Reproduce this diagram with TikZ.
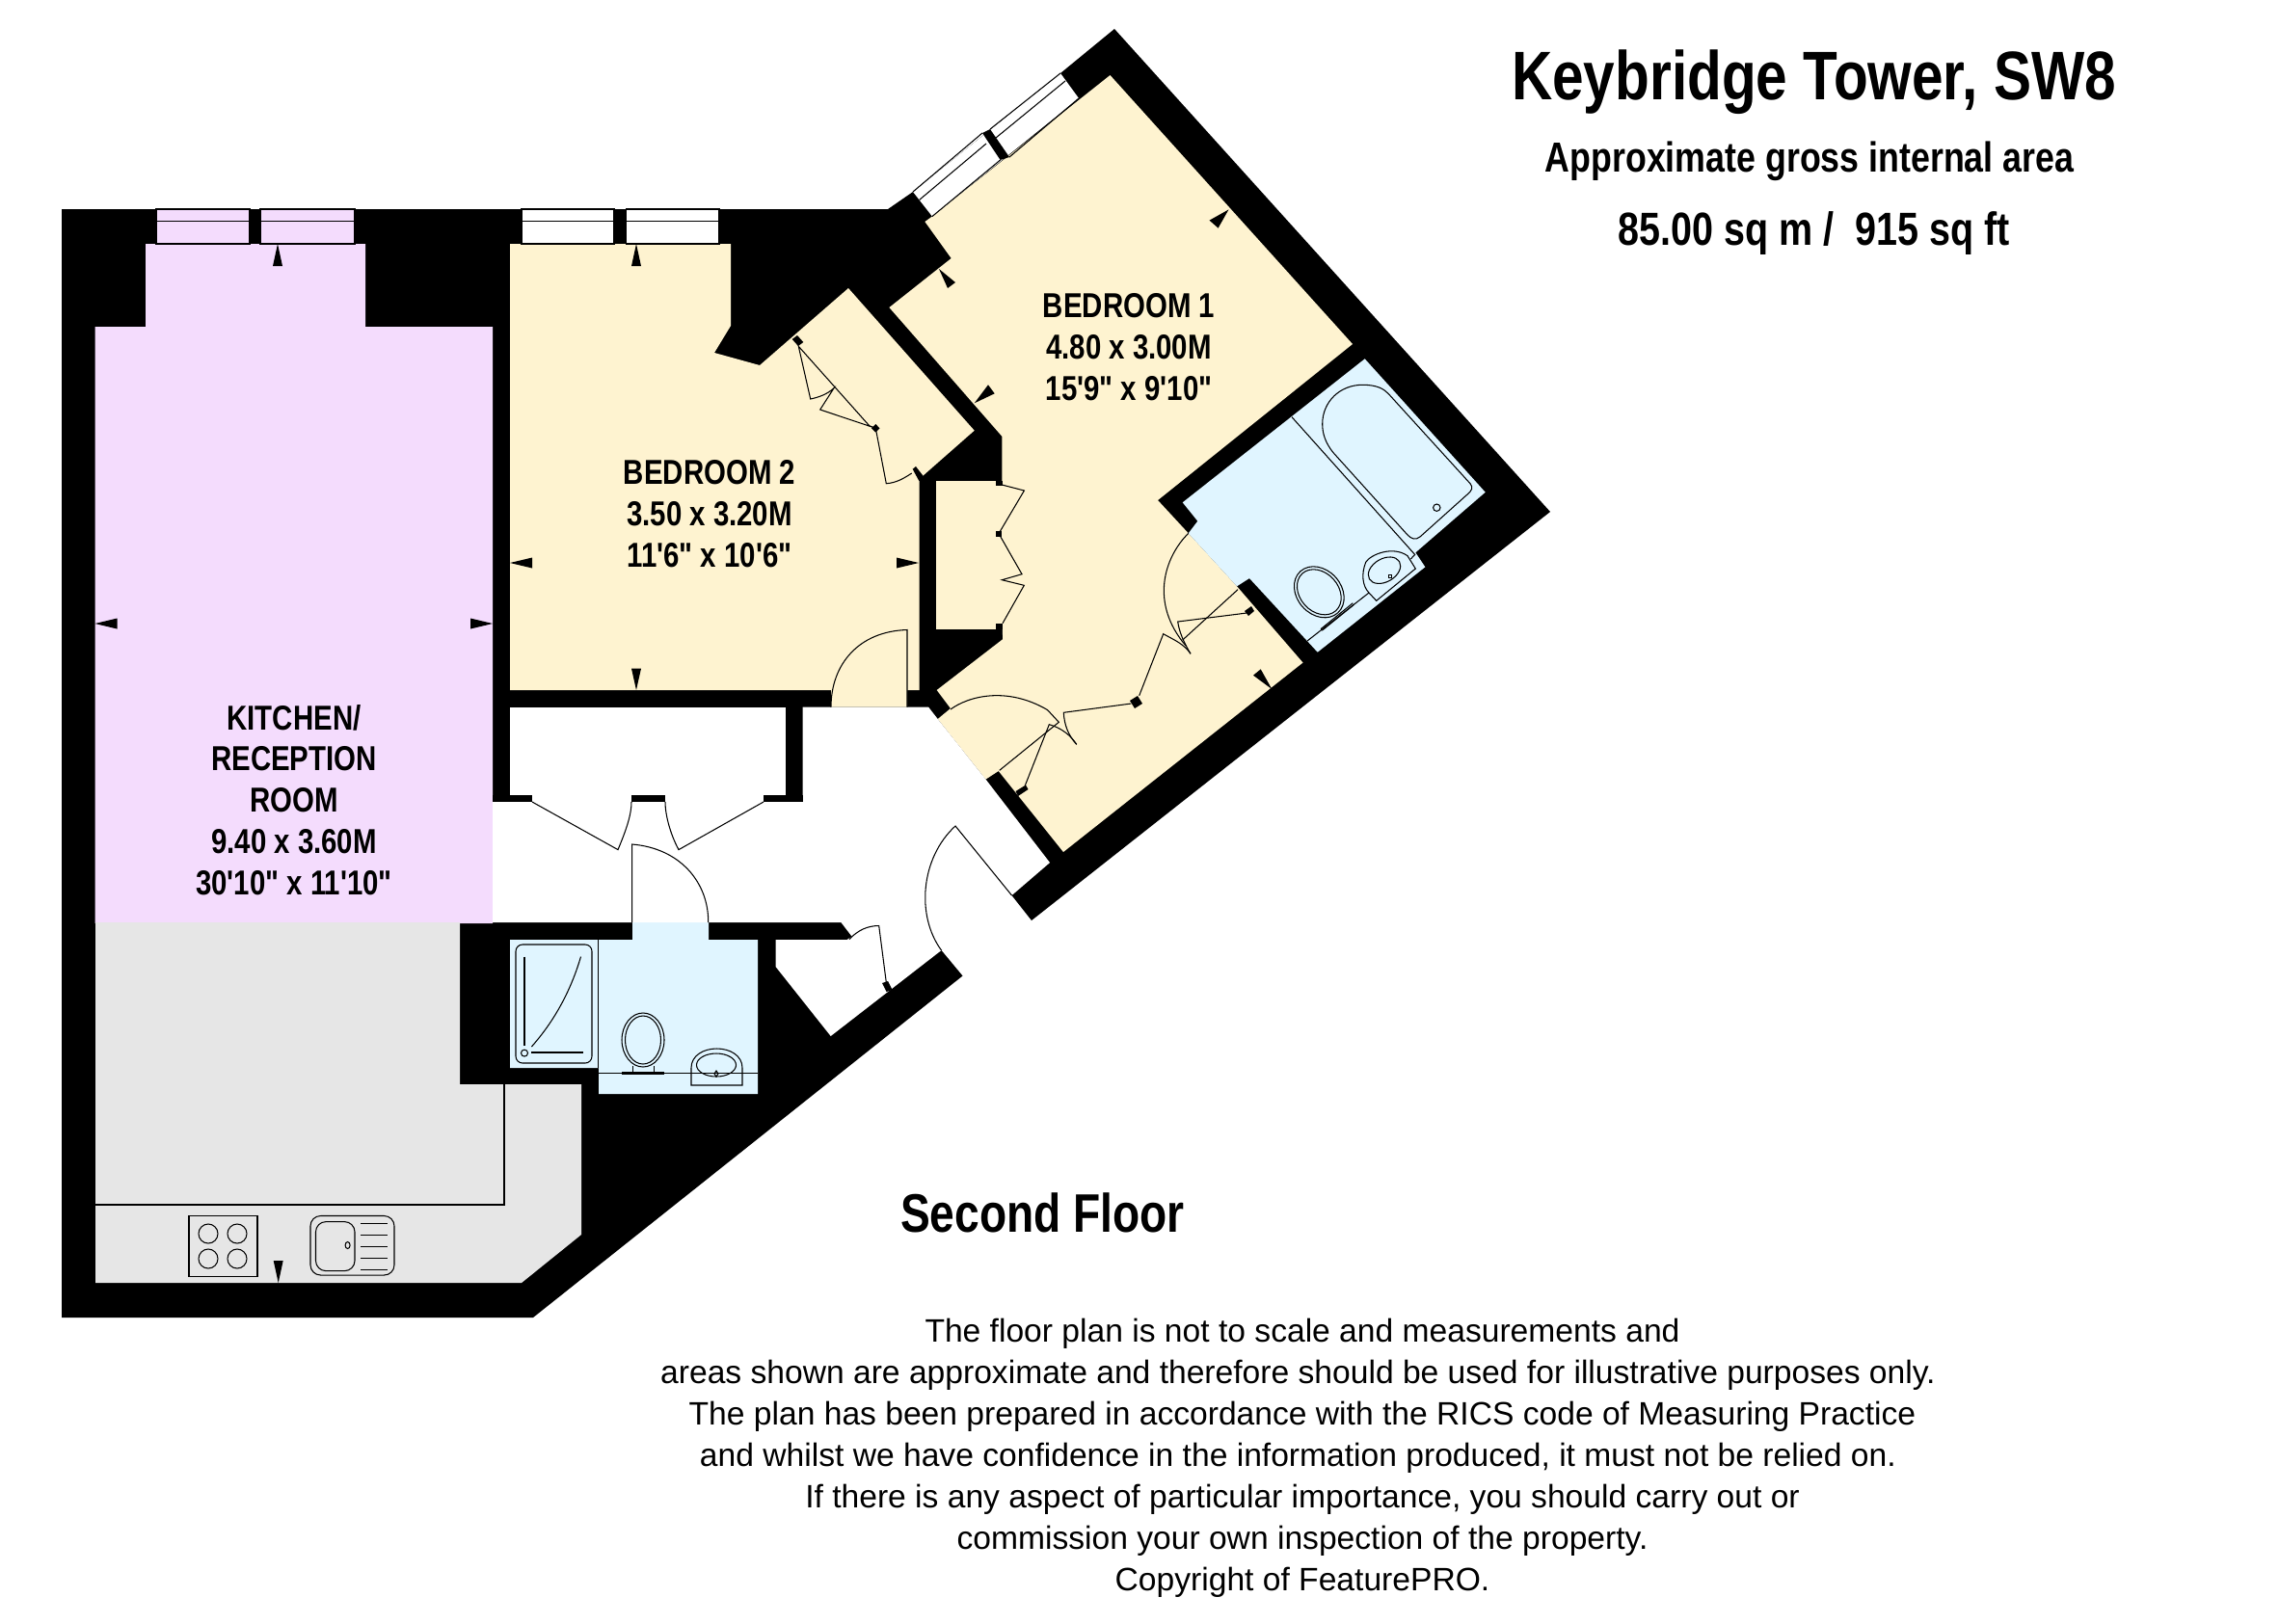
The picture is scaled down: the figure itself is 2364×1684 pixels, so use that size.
\documentclass[tikz,border=0pt]{standalone}
\usepackage{fontspec}
\setmainfont{Liberation Sans}
\newfontfamily\narrowfont[FakeStretch=0.82]{Liberation Sans}
\definecolor{kitchenpink}{RGB}{244,220,253}
\definecolor{bedyellow}{RGB}{254,243,208}
\definecolor{bathblue}{RGB}{224,245,255}
\definecolor{floorgrey}{RGB}{230,230,230}

\begin{document}
\begin{tikzpicture}[
        x=0.01cm, y=-0.01cm,
        fixture/.style={draw=black, line width=0.3pt},
        dimtip/.style={fill=black},
        roomlabel/.style={font=\narrowfont\bfseries\fontsize{10.2}{12.2}\selectfont, align=center, inner sep=0pt},
        titlelabel/.style={font=\narrowfont\bfseries\fontsize{20.3}{24}\selectfont, inner sep=0pt}
      ]
        \useasboundingbox (0,0) rectangle (2364,1684);

        \fill[black] (64,217) -- (921,217) -- (947,199) -- (1100,76) -- (1156,30) -- (1608,531) -- (1070,955) -- (1049.5,929)
          -- (976.5,986) -- (998.5,1012.5) -- (553,1367) -- (64,1367) -- cycle;

        \fill[kitchenpink] (98.5,339) -- (151,339) -- (151,253) -- (379,253) -- (379,339) -- (511,339) -- (511,958) -- (98.5,958) -- cycle;
        \fill[floorgrey] (99,957) -- (477,957) -- (477,1125) -- (603,1125) -- (603,1281) -- (541,1331) -- (99,1331) -- cycle;
        \fill[bedyellow] (529,253) -- (758,253) -- (758,338) -- (741,366) -- (788,379) -- (880,299) -- (1010.7,446.7) -- (953.5,497)
          -- (953.5,716) -- (941,716) -- (941,733.5) -- (862,733.5) -- (862,716) -- (529,716) -- cycle;
        \fill[bedyellow] (967,224.5) -- (1151.5,78) -- (1403,357) -- (1201,519) -- (1232.7,553.3) -- (1283,608.3) -- (1351.5,687.5) -- (1103,884)
          -- (1035.7,800) -- (1022.5,808.6) -- (972.7,746) -- (986,735) -- (971.7,716) -- (1040,663.3) -- (1039.4,499) -- (1039.3,452.7)
          -- (922.4,319) -- (986.7,268) -- (959.4,230) -- cycle;
        \fill[bedyellow] (971,499) rectangle (1040,652.7);
        \fill[black] (1032.7,499) rectangle (1040,504.3);
        \fill[black] (1033,646.7) rectangle (1040,653.3);
        \fill[bathblue] (1226.7,521.3) -- (1415.7,372.3) -- (1540.7,510.7) -- (1468.3,573.3) -- (1478.3,588.3) -- (1366.7,676.7) -- (1296,600) -- (1283,608.3)
          -- (1232.7,553.3) -- (1242.3,540.7) -- cycle;
        \fill[bathblue] (656,957) -- (735,957) -- (735,975) -- (786,975) -- (786,1135) -- (621,1135) -- (621,1108) -- (529,1108) -- (529,975) -- (656,975) -- cycle;
        \fill[white] (511,832) -- (832.6,832) -- (832.6,733.5) -- (963,733.5) -- (972.7,746) -- (1022.5,808.6) -- (1089,895) -- (1049.5,929) -- (1025,972) -- (976.5,986)
          -- (861.7,1075) -- (804.6,1003) -- (804.6,975) -- (878.6,975) -- (883.7,971.7) -- (872.4,957) -- (511,957) -- cycle;
        \fill[white] (529,733.5) rectangle (815,833);
        \fill[black] (511,825) rectangle (552,832);
        \fill[black] (655,825) rectangle (690,832);
        \fill[black] (792,825) rectangle (832.6,832);

        \fill[kitchenpink] (162,217) rectangle (368,253);
        \fill[black] (259,217) rectangle (270,253);
        \fill[white] (541,217) rectangle (746,253);
        \fill[black] (637,217) rectangle (649.5,253);
        \draw[fixture] (162,217) rectangle (259,253) (270,217) rectangle (368,253);
        \draw[fixture] (162,229.4) -- (259,229.4) (270,229.4) -- (368,229.4);
        \draw[fixture] (541,217) rectangle (637,253) (649.5,217) rectangle (746,253);
        \draw[fixture] (541,229.4) -- (637,229.4) (649.5,229.4) -- (746,229.4);
        \fill[white] (947,199) -- (1100,76) -- (1119,102) -- (967,224.5) -- cycle;
        \fill[black] (1019,138) -- (1027,134) -- (1047,163) -- (1037.6,166) -- cycle;
        \draw[fixture] (947,199) -- (1019,138) (1027,134) -- (1100,76);
        \draw[fixture] (953.6,207.4) -- (1023,149) (1033,143) -- (1105,84);
        \draw[fixture] (967,224.5) -- (1037.6,166) (1047,163) -- (1119,102);

        \fill[dimtip] (288,253) -- (283,276) -- (293,276) -- cycle;
        \fill[dimtip] (660,253) -- (655,276) -- (665,276) -- cycle;
        \fill[dimtip] (660,716) -- (655,693.6) -- (665,693.6) -- cycle;
        \fill[dimtip] (98.5,647) -- (121.5,641.5) -- (121.5,652.5) -- cycle;
        \fill[dimtip] (511,647) -- (488,641.5) -- (488,652.5) -- cycle;
        \fill[dimtip] (529,584) -- (552,578.5) -- (552,589.5) -- cycle;
        \fill[dimtip] (953,584) -- (930,578.5) -- (930,589.5) -- cycle;
        \fill[dimtip] (288.7,1331) -- (283.7,1308) -- (293.7,1308) -- cycle;
        \fill[dimtip] (1274.5,217.4) -- (1254.5,228.6) -- (1263.6,236.6) -- cycle;
        \fill[dimtip] (974,279) -- (991,293) -- (983,299) -- cycle;
        \fill[dimtip] (1010.7,418.3) -- (1025,399.3) -- (1031.7,408.3) -- cycle;
        \fill[dimtip] (1319.3,715) -- (1300,700.7) -- (1307.7,694.3) -- cycle;

        \draw[fixture] (941,733.5) -- (941,653.5) .. controls (890,655) and (862,690) .. (862,733.5);
        \draw[fixture] (552,832) -- (641,881.6) .. controls (650,860) and (655,845) .. (655,832);
        \draw[fixture] (792,832) -- (704,881.6) .. controls (695,865) and (690,845) .. (690,832);
        \draw[fixture] (655.6,957) -- (655.6,876) .. controls (705,880) and (735,915) .. (734.7,957);
        \draw[fixture] (1049.5,929) -- (991,857) .. controls (955,890) and (950,950) .. (976.5,986);
        \draw[fixture] (881,974.5) .. controls (890,965) and (900,960.5) .. (911.7,960.5) -- (919.4,1020);
        \fill[black] (915,1020) -- (921,1018) -- (925.5,1027) -- (919.5,1029) -- cycle;

        \draw[fixture] (828.3,359.3) -- (901.7,441.7) -- (908.3,444.3) -- (850.7,425) -- (865,402.7) .. controls (858,409) and (850,412) .. (840.7,414) -- cycle;
        \draw[fixture] (908.3,444.3) -- (919.3,501.7) .. controls (930,501) and (938,496) .. (945.7,491);
        \fill[black] (821.7,352) -- (827,348) -- (833.3,355) -- (828,359) -- cycle;
        \fill[black] (908.3,440) -- (912.5,444.3) -- (908.3,448.6) -- (904,444.3) -- cycle;
        \fill[black] (946.7,486.7) -- (950,484) -- (958.5,495) -- (953.3,499) -- cycle;

        \draw[fixture] (1039.3,503) -- (1062.4,509) -- (1036,553.6) -- (1060,595.7) -- (1039.3,601.7) -- (1062.3,607.3) -- (1040,646.7);
        \fill[black] (1033,551) rectangle (1039,557);

        \draw[fixture] (986,736) .. controls (1005,722) and (1045,712) .. (1086.7,736.7) -- (1098.3,749.3) -- (1036.7,799.3);
        \draw[fixture] (1063.3,815) -- (1088.3,751.7) .. controls (1100,755) and (1110,762) .. (1116.7,772.3);
        \draw[fixture] (1173.3,730) -- (1103.3,739.3) .. controls (1104,752) and (1108,763) .. (1116.7,772.3);
        \draw[fixture] (1181.7,721.7) -- (1206.7,657.7) .. controls (1218,664) and (1228,668) .. (1235,678.3);
        \draw[fixture] (1293.3,636) -- (1221.7,645) .. controls (1223,655) and (1228,667) .. (1235,678.3);
        \draw[fixture] (1284,611.7) -- (1226.7,664);
        \draw[fixture] (1232.7,553.3) .. controls (1208,578) and (1192,625) .. (1230,670);
        \fill[black] (1053.5,821) -- (1064,814.5) -- (1066.5,819) -- (1056,826) -- cycle;
        \fill[black] (1172,727) -- (1180,722) -- (1185,730) -- (1177,735) -- cycle;
        \fill[black] (1291,634) -- (1298,629) -- (1301,634) -- (1295,639) -- cycle;

        \draw[fixture] (1340,432.7) -- (1467.3,575);
        \draw[fixture] (1371.7,440) .. controls (1371.7,416.7) and (1390,399.3) .. (1413.3,399.3) .. controls (1428.3,399.3) and (1435,403.3) .. (1440,408.3)
          -- (1525,501.7) .. controls (1528.3,505.7) and (1527,509) .. (1521.7,513.3) -- (1473.3,556.7) .. controls (1468.3,561) and (1464,559) .. (1460,555)
          -- (1383.3,470) .. controls (1375,460) and (1371.7,450) .. (1371.7,440) -- cycle;
        \draw[fixture] (1490.3,526.7) circle[radius=3.7];
        \draw[fixture] (1420,615) .. controls (1413,608) and (1412,595) .. (1416.7,583.3) .. controls (1422,575) and (1445,566) .. (1460,576.7) -- (1468.3,590) -- (1427.7,623.3) -- cycle;
        \draw[fixture, shift={(1436,591.7)}, rotate=30] (0,0) ellipse[x radius=18, y radius=12];
        \draw[fixture] (1440.2,596.8) rectangle (1443.2,599.8);
        \draw[fixture, shift={(1368.3,614.3)}, rotate=-48] (0,0) ellipse[x radius=29, y radius=23];
        \draw[fixture, shift={(1368.3,614.3)}, rotate=-48] (0,0) ellipse[x radius=26, y radius=20];
        \draw[fixture] (1356,665) -- (1420,615) (1463.3,580) -- (1468,575);
        \draw[fixture] (1370,652.7) -- (1403.3,625.7) (1371.3,654.2) -- (1404.6,627.2);

        \draw[fixture] (620.5,975) -- (620.5,1108);
        \draw[fixture, rounded corners=2pt] (535,980) rectangle (614,1103);
        \draw[fixture] (544,992.6) -- (544,1085);
        \draw[fixture] (602.5,992.6) .. controls (590,1035) and (570,1065) .. (551.4,1086);
        \draw[fixture] (544,1092.6) circle[radius=3.5];
        \draw[fixture] (551.4,1092) -- (605,1092);
        \draw[fixture] (667,1079) ellipse[x radius=22, y radius=28];
        \draw[fixture] (667,1079) ellipse[x radius=18.5, y radius=25];
        \draw[fixture] (656.5,1106) -- (656.5,1113.5) (678.5,1106) -- (678.5,1113.5);
        \draw[fixture] (621,1113.5) -- (786,1113.5);
        \fill[black] (645,1112) rectangle (689,1114.5);
        \draw[fixture] (717,1126) -- (717,1108) .. controls (717,1095) and (730,1088) .. (743.5,1088) .. controls (757,1088) and (770,1095) .. (770,1108) -- (770,1126) -- cycle;
        \draw[fixture] (743,1105) ellipse[x radius=20.5, y radius=12];
        \draw[fixture] (743,1111) -- (745,1114) -- (743,1117) -- (741,1114) -- cycle;

        \draw[fixture] (523,1125) -- (523,1250) -- (99,1250);
        \draw[fixture] (196,1261.5) rectangle (267,1324);
        \draw[fixture] (216,1280) circle[radius=10] (246,1280) circle[radius=10];
        \draw[fixture] (216,1306) circle[radius=10] (246,1306) circle[radius=10];
        \draw[fixture, rounded corners=3pt] (322,1261.5) rectangle (409,1323);
        \draw[fixture, rounded corners=3pt] (327.5,1267.6) rectangle (368,1318.6);
        \draw[fixture] (360.6,1292) ellipse[x radius=2.5, y radius=3.5];
        \foreach \dry in {1269.6,1281,1293,1305,1317}
          \draw[fixture] (374,\dry) -- (402,\dry);

        \node[titlelabel] (title) at (1881.5,85) {Keybridge Tower, SW8};
        \node[titlelabel, font=\narrowfont\bfseries\fontsize{12.4}{15}\selectfont] (area) at (1877,167) {Approximate gross internal area};
        \node[titlelabel, font=\narrowfont\bfseries\fontsize{13.7}{16}\selectfont] (size) at (1882,242) {85.00 sq m /\ \ 915 sq ft};
        \node[titlelabel, font=\narrowfont\bfseries\fontsize{16}{20}\selectfont] (floor) at (1081.5,1258) {Second Floor};
        \node[roomlabel] (bedone) at (1171,360) {BEDROOM 1\\4.80 x 3.00M\\15'9" x 9'10"};
        \node[roomlabel] (bedtwo) at (736,533) {BEDROOM 2\\3.50 x 3.20M\\11'6" x 10'6"};
        \node[roomlabel] (kitchen) at (305,830) {KITCHEN/\\RECEPTION\\ROOM\\9.40 x 3.60M\\30'10" x 11'10"};
        \node[align=center, inner sep=0pt, font=\fontsize{9.56}{12.23}\selectfont] (note) at (1351,1513) {The floor plan is not to scale and measurements and\\areas shown are approximate and therefore should be used for illustrative purposes only.\rule{2.6pt}{0pt}\\The plan has been prepared in accordance with the RICS code of Measuring Practice\\and whilst we have confidence in the information produced, it must not be relied on.\rule{2.6pt}{0pt}\\If there is any aspect of particular importance, you should carry out or\\commission your own inspection of the property.\\Copyright of FeaturePRO.};
      \end{tikzpicture}
\end{document}
